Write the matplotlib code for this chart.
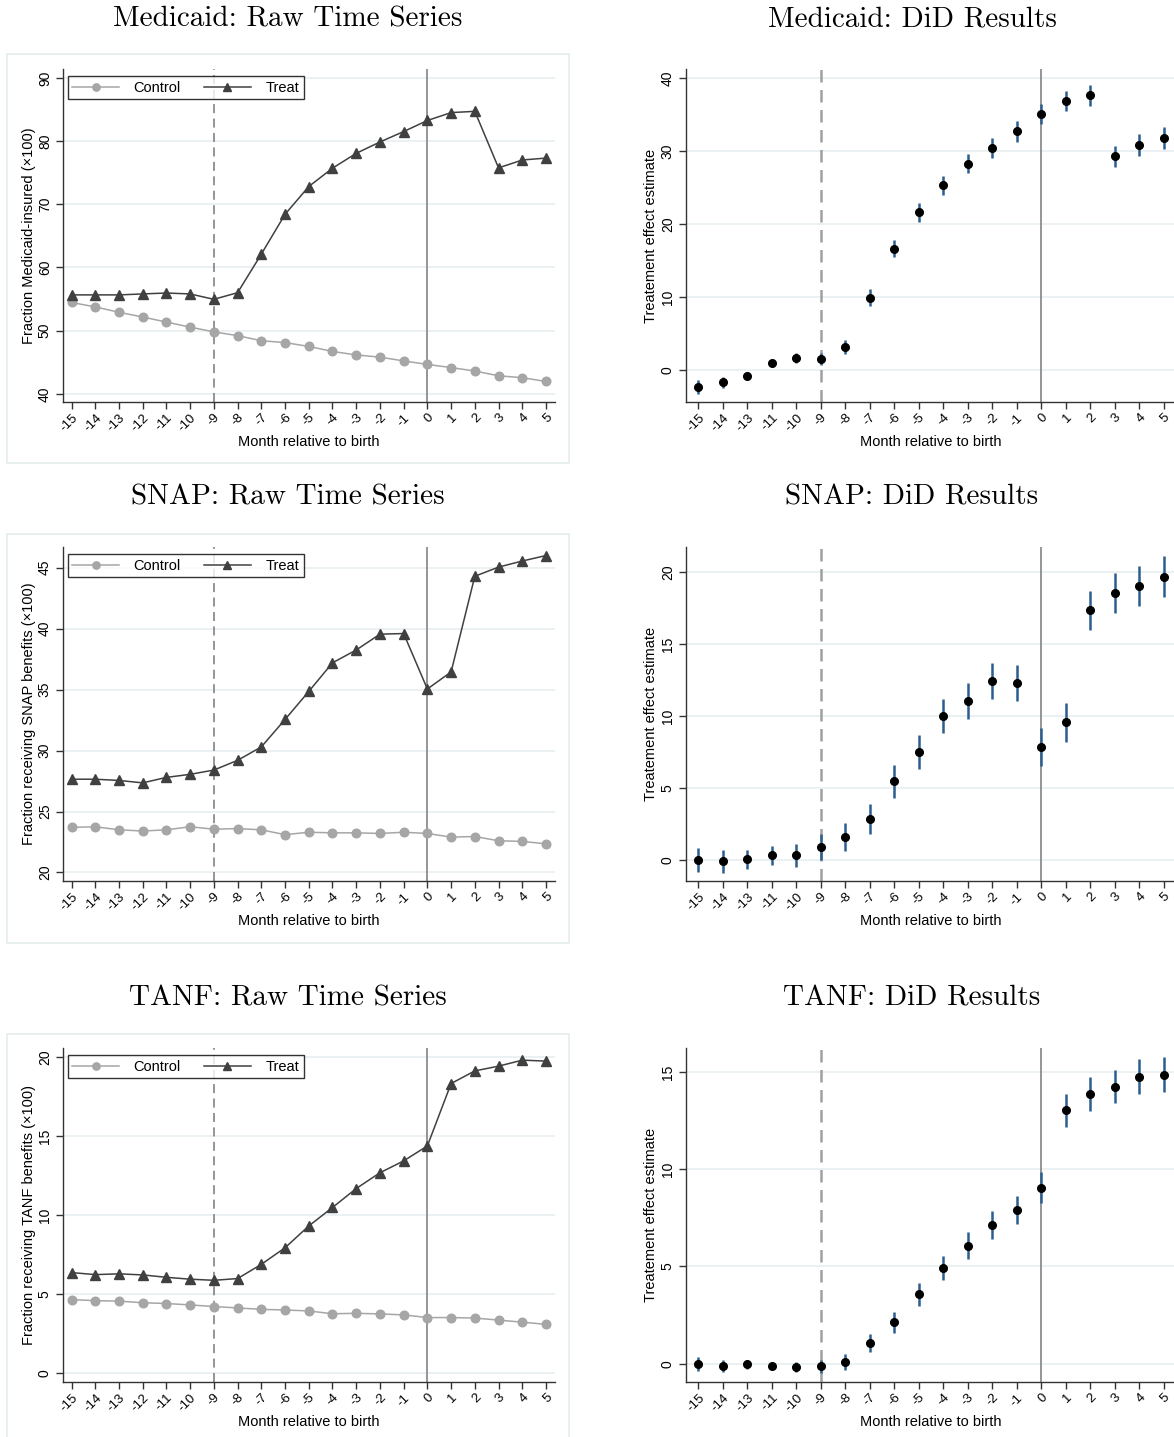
import matplotlib
matplotlib.use("Agg")
import matplotlib.pyplot as plt
from matplotlib.patches import Rectangle
import numpy as np

# ---------------------------------------------------------------- data
months = [-15, -14, -13, -12, -11, -10, -9, -8, -7, -6, -5, -4, -3, -2, -1, 0, 1, 2, 3, 4, 5]
# event-study months (month -12 is the omitted reference period)
did_months = [-15, -14, -13, -11, -10, -9, -8, -7, -6, -5, -4, -3, -2, -1, 0, 1, 2, 3, 4, 5]

medicaid_treat = [55.65, 55.65, 55.65, 55.8, 55.95, 55.8, 54.95, 56.0, 62.1, 68.4, 72.8,
                  75.7, 78.05, 79.85, 81.5, 83.25, 84.5, 84.7, 75.75, 77.0, 77.3]
medicaid_control = [54.45, 53.75, 52.9, 52.15, 51.35, 50.55, 49.8, 49.2, 48.4, 48.1, 47.5,
                    46.7, 46.15, 45.8, 45.2, 44.65, 44.15, 43.6, 42.85, 42.55, 41.95]
medicaid_est = [-2.35, -1.7, -0.85, 0.95, 1.6, 1.45, 3.15, 9.9, 16.6, 21.6, 25.3,
                28.2, 30.4, 32.65, 35.05, 36.8, 37.6, 29.25, 30.75, 31.8]
medicaid_ci = [0.9, 0.75, 0.5, 0.4, 0.7, 0.85, 0.95, 1.15, 1.2, 1.3, 1.3,
               1.3, 1.4, 1.4, 1.4, 1.4, 1.45, 1.45, 1.5, 1.5]

snap_treat = [27.65, 27.65, 27.55, 27.35, 27.8, 28.05, 28.4, 29.2, 30.3, 32.55, 34.85,
              37.2, 38.25, 39.55, 39.6, 35.05, 36.45, 44.3, 45.05, 45.55, 46.0]
snap_control = [23.7, 23.75, 23.5, 23.4, 23.5, 23.75, 23.55, 23.6, 23.5, 23.1, 23.3,
                23.25, 23.25, 23.2, 23.3, 23.2, 22.9, 22.95, 22.6, 22.55, 22.35]
snap_est = [0.0, -0.1, 0.02, 0.32, 0.32, 0.9, 1.6, 2.85, 5.45, 7.5, 10.0,
            11.05, 12.45, 12.3, 7.85, 9.55, 17.35, 18.55, 19.05, 19.7]
snap_ci = [0.85, 0.8, 0.65, 0.66, 0.8, 0.9, 0.97, 1.05, 1.12, 1.18, 1.2,
           1.23, 1.24, 1.26, 1.31, 1.34, 1.38, 1.39, 1.41, 1.43]

tanf_treat = [6.38, 6.25, 6.3, 6.23, 6.08, 5.96, 5.89, 6.0, 6.9, 7.95, 9.33,
              10.5, 11.7, 12.7, 13.45, 14.4, 18.35, 19.15, 19.45, 19.83, 19.77]
tanf_control = [4.67, 4.6, 4.57, 4.47, 4.42, 4.33, 4.23, 4.14, 4.05, 4.01, 3.95,
                3.77, 3.8, 3.76, 3.7, 3.53, 3.53, 3.5, 3.37, 3.24, 3.1]
tanf_est = [-0.03, -0.14, -0.03, -0.12, -0.17, -0.14, 0.09, 1.06, 2.13, 3.57, 4.92,
            6.07, 7.13, 7.9, 9.05, 13.03, 13.87, 14.25, 14.76, 14.86]
tanf_ci = [0.35, 0.31, 0.24, 0.22, 0.28, 0.33, 0.39, 0.48, 0.55, 0.6, 0.63,
           0.68, 0.71, 0.74, 0.78, 0.86, 0.87, 0.87, 0.89, 0.9]

programs = ["Medicaid", "SNAP", "TANF"]
raw_ylabels = ["Fraction Medicaid-insured (\u00d7100)",
               "Fraction receiving SNAP benefits (\u00d7100)",
               "Fraction receiving TANF benefits (\u00d7100)"]
did_ylabel = "Treatement effect estimate"
xlabel = "Month relative to birth"
legend_labels = ["Control", "Treat"]

# ---------------------------------------------------------------- style
W, H = 1174, 1437
SANS = ["Liberation Sans", "DejaVu Sans"]
plt.rcParams["font.family"] = SANS
plt.rcParams["axes.unicode_minus"] = False

C_TREAT = "#404040"
C_CTRL = "#a6a6a6"
C_GRID = "#e6eef0"
C_BAR = "#2c5d8f"
C_VLINE = "#8c8c8c"
C_BOX = "#e3ecec"

fig = plt.figure(figsize=(W / 100, H / 100), dpi=100)


def add_axes_px(left, top, right, bottom):
    return fig.add_axes([left / W, 1 - bottom / H, (right - left) / W, (bottom - top) / H])


def style_axes(ax, yticks):
    for side in ("top", "right"):
        ax.spines[side].set_visible(False)
    for side in ("left", "bottom"):
        ax.spines[side].set_color("#333333")
        ax.spines[side].set_linewidth(1.0)
    ax.set_yticks(yticks)
    ax.set_yticklabels([str(v) for v in yticks], rotation=90, va="center", fontsize=10)
    ax.tick_params(axis="both", direction="out", length=5, width=1, color="#333333")
    ax.tick_params(axis="y", pad=3)
    ax.grid(axis="y", color=C_GRID, lw=1.1)
    ax.set_axisbelow(True)


def set_xticks(ax, pos, labels):
    ax.set_xticks(pos)
    ax.set_xticklabels(labels, rotation=45, ha="right", va="top",
                       rotation_mode="anchor", fontsize=9.5)
    ax.tick_params(axis="x", pad=2)


rows_top = [69, 547, 1048]
rows_bot = [402, 881, 1382]
box_top = [54, 534, 1034]
title_y = [19, 497, 998]

raw_sets = [(medicaid_control, medicaid_treat), (snap_control, snap_treat),
            (tanf_control, tanf_treat)]
did_sets = [(medicaid_est, medicaid_ci), (snap_est, snap_ci), (tanf_est, tanf_ci)]
raw_ylims = [(38.7, 91.4), (19.3, 46.7), (-0.55, 20.6)]
raw_yticks = [[40, 50, 60, 70, 80, 90], [20, 25, 30, 35, 40, 45], [0, 5, 10, 15, 20]]
did_ylims = [(-4.4, 41.2), (-1.48, 21.76), (-0.94, 16.23)]
did_yticks = [[0, 10, 20, 30, 40], [0, 5, 10, 15, 20], [0, 5, 10, 15]]

for r, prog in enumerate(programs):
    # light frame around the raw-series graph region
    fig.patches.append(Rectangle((7 / W, 1 - (box_top[r] + 409) / H), 562 / W, 409 / H,
                                 transform=fig.transFigure, fill=False,
                                 edgecolor=C_BOX, lw=1.2))

    fig.text(288 / W, 1 - title_y[r] / H, f"{prog}: Raw Time Series",
             family="cmr10", fontsize=21, ha="center", va="center")
    fig.text(912 / W, 1 - title_y[r] / H, f"{prog}: DiD Results",
             family="cmr10", fontsize=21, ha="center", va="center")

    # ---- raw time series
    ax = add_axes_px(63, rows_top[r], 555, rows_bot[r])
    ctrl, treat = raw_sets[r]
    ax.axvline(-9, color=C_VLINE, lw=1.3, ls=(0, (5, 3)), zorder=1)
    ax.axvline(0, color=C_VLINE, lw=1.3, zorder=1)
    ax.plot(months, ctrl, color=C_CTRL, lw=1.1, marker="o", ms=6.2,
            mfc=C_CTRL, mec=C_CTRL, label=legend_labels[0], zorder=3)
    ax.plot(months, treat, color=C_TREAT, lw=1.1, marker="^", ms=7.5,
            mfc=C_TREAT, mec=C_TREAT, label=legend_labels[1], zorder=4)
    ax.set_xlim(-15.36, 5.38)
    ax.set_ylim(*raw_ylims[r])
    style_axes(ax, raw_yticks[r])
    set_xticks(ax, months, [str(m) for m in months])
    ax.set_xlabel(xlabel, fontsize=10.5, labelpad=1)
    ax.set_ylabel(raw_ylabels[r], fontsize=10.5, labelpad=1)
    leg = ax.legend(loc="upper left", ncol=2, frameon=True, fancybox=False,
                    edgecolor="black", fontsize=10.5, handlelength=3.2,
                    columnspacing=1.6, borderpad=0.3, handletextpad=1.0,
                    markerscale=0.85, borderaxespad=0,
                    bbox_to_anchor=(0.01, 0.978))
    leg.get_frame().set_linewidth(1.0)

    # ---- difference-in-differences estimates
    ax2 = add_axes_px(686, rows_top[r], 1176, rows_bot[r])
    est, ci = did_sets[r]
    xi = np.arange(len(did_months))
    est = np.asarray(est)
    ci = np.asarray(ci)
    ax2.axvline(did_months.index(-9), color="#a0a0a0", lw=1.8, ls=(0, (5, 3)), zorder=1)
    ax2.axvline(did_months.index(0), color=C_VLINE, lw=1.3, zorder=1)
    ax2.vlines(xi, est - ci, est + ci, color=C_BAR, lw=1.8, zorder=3)
    ax2.plot(xi, est, ls="none", marker="o", ms=5.5, color="black", zorder=4)
    ax2.set_xlim(-0.5, 19.5)
    ax2.set_ylim(*did_ylims[r])
    style_axes(ax2, did_yticks[r])
    set_xticks(ax2, xi, [str(m) for m in did_months])
    ax2.set_xlabel(xlabel, fontsize=10.5, labelpad=1)
    ax2.set_ylabel(did_ylabel, fontsize=10.5, labelpad=2)

fig.savefig("out.png", dpi=100, facecolor="white")
